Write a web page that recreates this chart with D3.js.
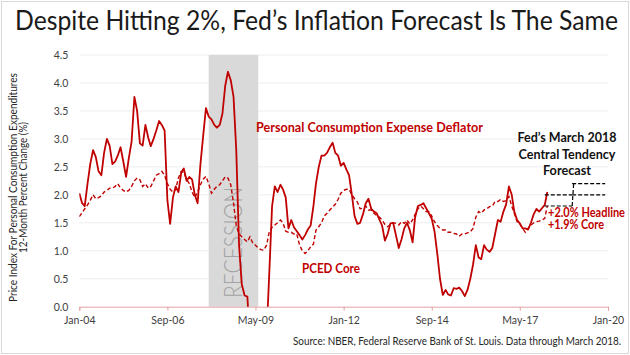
<!DOCTYPE html>
<html><head><meta charset="utf-8">
<script src="https://cdn.jsdelivr.net/npm/d3@7"></script>
<style>body{margin:0;background:#fff}svg{display:block}text{font-family:Lato,'Open Sans',sans-serif}</style>
</head><body><svg id="c" width="630" height="355"></svg>
<script>
const startMonth = "2004-01";
const headline = [
2.03,1.85,1.8,2.2,2.55,2.8,2.68,2.42,2.35,2.75,3.0,2.88,
2.55,2.6,2.7,2.85,2.6,2.32,2.65,2.95,3.75,3.5,2.92,2.88,
3.25,3.02,2.87,3.0,3.15,3.32,3.25,3.15,1.9,1.48,1.95,2.15,
2.05,2.4,2.47,2.25,2.32,2.27,2.0,1.85,2.55,3.05,3.55,3.4,
3.35,3.25,3.2,3.25,3.45,3.95,4.2,4.05,3.75,2.8,1.1,0.4,
0.2,0.18,-0.7,-1.0,-1.2,-1.3,-1.2,-1.0,-0.5,0.6,1.8,2.15,
2.05,2.18,2.1,1.95,1.4,1.55,1.42,1.35,1.28,1.2,1.28,1.38,
1.45,1.8,2.2,2.5,2.7,2.7,2.75,2.85,2.93,2.75,2.7,2.52,
2.57,2.45,2.35,2.0,1.62,1.48,1.5,1.65,1.85,1.93,1.75,1.7,
1.67,1.55,1.45,1.18,1.3,1.49,1.5,1.28,1.05,1.2,1.4,1.5,
1.37,1.15,1.6,1.8,1.82,1.85,1.76,1.67,1.57,1.35,0.95,0.5,
0.21,0.3,0.22,0.2,0.33,0.32,0.34,0.28,0.19,0.3,0.5,0.75,
1.1,0.88,0.85,1.1,1.02,0.98,1.05,1.3,1.55,1.52,1.7,1.83,
2.15,2.0,1.7,1.55,1.49,1.4,1.4,1.38,1.5,1.65,1.75,1.7,
1.76,1.82,2.05];
const core = [
1.61,1.68,1.75,1.82,1.9,2.0,1.93,1.95,1.98,2.05,2.08,2.12,
2.12,2.15,2.2,2.12,2.08,2.05,2.08,2.15,2.25,2.3,2.27,2.15,
2.2,2.12,2.15,2.25,2.35,2.38,2.42,2.35,2.2,2.1,2.05,2.1,
2.3,2.42,2.4,2.28,2.2,2.05,1.95,2.05,2.18,2.28,2.33,2.2,
2.03,2.1,2.15,2.18,2.25,2.32,2.3,2.18,1.85,1.45,1.3,1.25,
1.2,1.16,1.25,1.14,1.1,1.05,1.02,1.01,1.1,1.34,1.42,1.46,
1.5,1.55,1.5,1.35,1.33,1.33,1.3,1.3,1.1,1.0,0.95,1.0,
1.07,1.12,1.37,1.43,1.5,1.62,1.67,1.73,1.78,1.83,1.92,2.03,
2.08,2.1,2.1,2.0,1.93,1.87,1.75,1.76,1.8,1.73,1.73,1.67,
1.63,1.6,1.55,1.47,1.43,1.47,1.5,1.49,1.46,1.52,1.49,1.55,
1.48,1.55,1.65,1.75,1.8,1.75,1.7,1.7,1.62,1.52,1.45,1.4,
1.37,1.37,1.33,1.33,1.31,1.3,1.26,1.3,1.3,1.32,1.34,1.4,
1.6,1.7,1.67,1.73,1.75,1.79,1.8,1.88,1.88,1.92,1.88,1.9,
1.97,1.8,1.67,1.52,1.48,1.4,1.33,1.4,1.46,1.5,1.52,1.53,
1.55,1.58,1.8];
const yTicks = [0,0.5,1,1.5,2,2.5,3,3.5,4,4.5];
const xTickLabels = ["Jan-04","Sep-06","May-09","Jan-12","Sep-14","May-17","Jan-20"];
const recession = ["2007-12","2009-06"];
const forecastStart = ["2018-02","2018-12"];
const forecastEnd = ["2018-12","2019-12"];
const forecastLow = [1.8,2.0];
const forecastHigh = [2.0,2.2];

const W=630,H=355;
const m={l:79.3,r:608,t:55,b:306.7};
const parseM=d3.utcParse("%Y-%m");
const parseT=d3.utcParse("%b-%y");
const fmtT=d3.utcFormat("%b-%y");
const t0=parseM(startMonth);
const dates=headline.map((_,i)=>d3.utcMonth.offset(t0,i));
const x=d3.scaleUtc().domain([parseT(xTickLabels[0]),parseT(xTickLabels[xTickLabels.length-1])]).range([m.l,m.r]);
const y=d3.scaleLinear().domain([0,4.5]).range([m.b,m.t]);
const svg=d3.select("#c");
const red="#c00000";

svg.append("rect").attr("x",1.5).attr("y",1.5).attr("width",W-3).attr("height",H-3).attr("fill","#fff").attr("stroke","#d9d9d9");

svg.append("text").attr("x",15).attr("y",30).attr("font-size",26).attr("fill","#1a1a1a")
  .attr("textLength",603).attr("lengthAdjust","spacingAndGlyphs")
  .text("Despite Hitting 2%, Fed\u2019s Inflation Forecast Is The Same");

// gridlines
svg.append("g").selectAll("line").data(yTicks.filter(d=>d>0)).join("line")
  .attr("x1",m.l).attr("x2",m.r).attr("y1",d=>y(d)).attr("y2",d=>y(d))
  .attr("stroke","#ededed").attr("stroke-width",1);

// recession
const r0=x(parseM(recession[0])), r1=x(parseM(recession[1]));
svg.append("rect").attr("x",r0).attr("y",m.t).attr("width",r1-r0).attr("height",m.b-m.t).attr("fill","#d9d9d9");
svg.append("text").attr("transform",`translate(${(r0+r1)/2+9},${242.5}) rotate(-90)`)
  .attr("text-anchor","middle").attr("font-size",25).attr("font-weight",300).attr("fill","#a3a3a3")
  .attr("textLength",111).attr("lengthAdjust","spacingAndGlyphs").text("RECESSION");

// y axis labels
const ya=svg.append("g").attr("transform",`translate(${m.l-8},0)`)
  .call(d3.axisLeft(y).tickValues(yTicks).tickFormat(d3.format(".1f")).tickSize(0));
ya.select(".domain").remove();
ya.selectAll("text").attr("font-size",10.5).attr("fill","#404040").attr("font-family","Lato,'Open Sans',sans-serif");

// x axis
const xa=svg.append("g").attr("transform",`translate(0,${m.b})`)
  .call(d3.axisBottom(x).tickValues(xTickLabels.map(parseT)).tickFormat(fmtT).tickSize(4).tickPadding(6));
xa.select(".domain").attr("stroke","#e3a3a3");
xa.selectAll(".tick line").attr("stroke","#e3a3a3");
xa.selectAll("text").attr("font-size",10.5).attr("fill","#404040").attr("font-family","Lato,'Open Sans',sans-serif");

// clip
svg.append("clipPath").attr("id","pc").append("rect").attr("x",m.l).attr("y",m.t-10).attr("width",m.r-m.l).attr("height",m.b-m.t+10);

const line=d3.line().x((d,i)=>x(dates[i])).y(d=>y(d));
svg.append("path").datum(core).attr("clip-path","url(#pc)").attr("d",line)
  .attr("fill","none").attr("stroke",red).attr("stroke-width",1.4).attr("stroke-dasharray","4,2.5");
svg.append("path").datum(headline).attr("clip-path","url(#pc)").attr("d",line)
  .attr("fill","none").attr("stroke",red).attr("stroke-width",1.8).attr("stroke-linejoin","round");

// forecast
const fg=svg.append("g").attr("stroke","#000").attr("stroke-width",1.2).attr("stroke-dasharray","4,2").attr("fill","none");
forecastStart.forEach((s,i)=>{
  const xs=x(parseM(s)), xe=x(parseM(forecastEnd[i]));
  fg.append("line").attr("x1",xs).attr("x2",xe).attr("y1",y(forecastLow[i])).attr("y2",y(forecastLow[i]));
  fg.append("line").attr("x1",xs).attr("x2",xe).attr("y1",y(forecastHigh[i])).attr("y2",y(forecastHigh[i]));
});
const xv=x(parseM(forecastStart[1]));
fg.append("line").attr("x1",xv).attr("x2",xv+1.5).attr("y1",y(forecastLow[0])).attr("y2",y(forecastHigh[1]));

// annotations
function lab(t,xx,yy,fs,col,len,anchor){
  svg.append("text").attr("x",xx).attr("y",yy).attr("font-size",fs).attr("font-weight",700).attr("fill",col)
   .attr("text-anchor",anchor||"start").attr("textLength",len).attr("lengthAdjust","spacingAndGlyphs").text(t);
}
lab("Personal Consumption Expense Deflator",256,131.5,13,red,227);
lab("PCED Core",302,273,13,red,58);
lab("Fed\u2019s March 2018",567,141.5,13.5,"#111",99,"middle");
lab("Central Tendency",567,158.5,13.5,"#111",97,"middle");
lab("Forecast",567,175,13.5,"#111",48,"middle");
lab("+2.0% Headline",548,216.5,12.5,red,77);
lab("+1.9% Core",548,229,12.5,red,56);

// y title
const yt=svg.append("text").attr("transform","translate(16.5,187.5) rotate(-90)").attr("text-anchor","middle")
  .attr("font-size",10.5).attr("fill","#262626");
yt.append("tspan").attr("x",0).attr("y",0).attr("textLength",229).attr("lengthAdjust","spacingAndGlyphs").text("Price Index For Personal Consumption Expenditures");
yt.append("tspan").attr("x",0).attr("y",10.5).attr("textLength",131).attr("lengthAdjust","spacingAndGlyphs").text("12-Month Percent Change (%)");

svg.append("text").attr("x",621).attr("y",344.5).attr("text-anchor","end").attr("font-size",10.5).attr("fill","#262626")
  .attr("textLength",328).attr("lengthAdjust","spacingAndGlyphs")
  .text("Source: NBER, Federal Reserve Bank of St. Louis. Data through March 2018.");
</script></body></html>
